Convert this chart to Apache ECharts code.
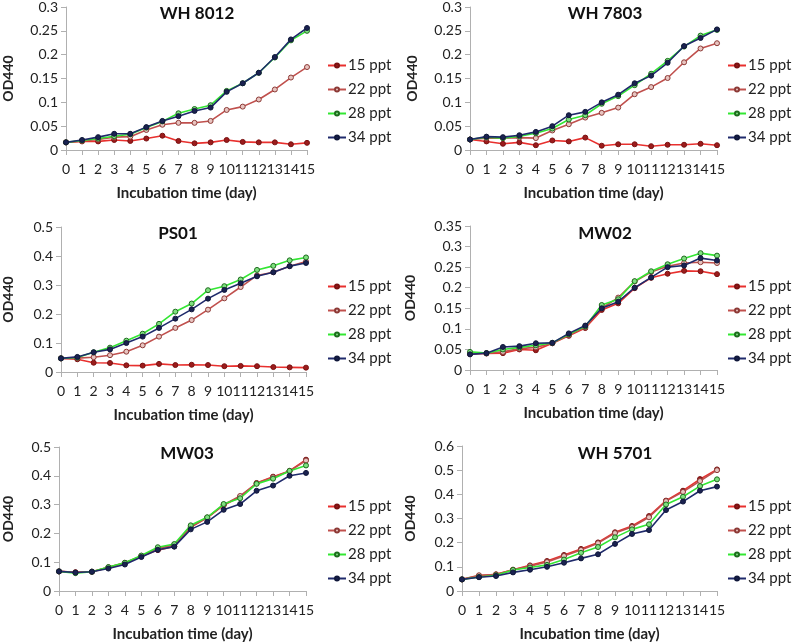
<!DOCTYPE html>
<html lang="en">
  <head>
    <meta charset="utf-8" />
    <title>OD440 growth curves</title>
    <script src="https://cdn.jsdelivr.net/npm/echarts@6/dist/echarts.min.js"></script>
    <style>
      html, body { margin: 0; padding: 0; background: #fff; }
      #chart { width: 800px; height: 643px; }
    </style>
  </head>
  <body>
    <div id="chart"></div>
    <script type="text/javascript">
      // days 0..15
      var days = ["0","1","2","3","4","5","6","7","8","9","10","11","12","13","14","15"];
      var seriesNames = ["15 ppt", "22 ppt", "28 ppt", "34 ppt"];

      // WH 8012
      var wh8012_15 = [0.016,0.018,0.018,0.021,0.019,0.024,0.030,0.019,0.014,0.016,0.021,0.017,0.016,0.016,0.012,0.015];
      var wh8012_22 = [0.016,0.019,0.022,0.027,0.028,0.042,0.053,0.057,0.057,0.061,0.084,0.091,0.106,0.127,0.152,0.174];
      var wh8012_28 = [0.016,0.020,0.024,0.029,0.033,0.047,0.060,0.077,0.086,0.094,0.124,0.140,0.162,0.194,0.230,0.250];
      var wh8012_34 = [0.016,0.021,0.027,0.034,0.034,0.048,0.061,0.071,0.082,0.089,0.122,0.140,0.162,0.195,0.232,0.256];

      // WH 7803
      var wh7803_15 = [0.022,0.018,0.013,0.016,0.010,0.020,0.018,0.026,0.009,0.012,0.012,0.008,0.011,0.011,0.013,0.010];
      var wh7803_22 = [0.022,0.025,0.025,0.026,0.025,0.041,0.054,0.068,0.078,0.089,0.117,0.132,0.151,0.184,0.213,0.224];
      var wh7803_28 = [0.022,0.027,0.025,0.029,0.035,0.045,0.064,0.073,0.097,0.113,0.136,0.160,0.187,0.217,0.240,0.252];
      var wh7803_34 = [0.022,0.028,0.027,0.031,0.038,0.050,0.073,0.080,0.100,0.116,0.140,0.156,0.183,0.218,0.235,0.253];

      // PS01
      var ps01_15 = [0.047,0.044,0.032,0.031,0.023,0.022,0.028,0.024,0.025,0.024,0.020,0.021,0.020,0.017,0.016,0.015];
      var ps01_22 = [0.047,0.048,0.051,0.058,0.070,0.092,0.122,0.152,0.179,0.215,0.254,0.293,0.333,0.344,0.365,0.381];
      var ps01_28 = [0.047,0.050,0.068,0.084,0.108,0.132,0.166,0.208,0.236,0.282,0.296,0.319,0.352,0.366,0.385,0.395];
      var ps01_34 = [0.047,0.052,0.068,0.078,0.100,0.122,0.152,0.184,0.216,0.253,0.283,0.306,0.330,0.344,0.365,0.376];

      // MW02
      var mw02_15 = [0.039,0.040,0.041,0.050,0.048,0.065,0.083,0.102,0.146,0.162,0.199,0.224,0.234,0.241,0.240,0.233];
      var mw02_22 = [0.040,0.041,0.044,0.052,0.055,0.065,0.085,0.104,0.150,0.176,0.215,0.238,0.252,0.260,0.262,0.260];
      var mw02_28 = [0.044,0.041,0.050,0.055,0.060,0.066,0.087,0.106,0.158,0.172,0.216,0.240,0.257,0.271,0.284,0.278];
      var mw02_34 = [0.038,0.041,0.056,0.058,0.065,0.066,0.089,0.108,0.150,0.166,0.200,0.225,0.250,0.254,0.272,0.266];

      // MW03
      var mw03_15 = [0.068,0.065,0.067,0.082,0.097,0.121,0.142,0.155,0.222,0.254,0.298,0.327,0.375,0.397,0.417,0.456];
      var mw03_22 = [0.068,0.065,0.067,0.082,0.098,0.122,0.148,0.160,0.222,0.255,0.300,0.330,0.374,0.395,0.416,0.453];
      var mw03_28 = [0.068,0.062,0.067,0.083,0.098,0.123,0.152,0.163,0.228,0.256,0.302,0.322,0.372,0.390,0.417,0.436];
      var mw03_34 = [0.068,0.064,0.067,0.078,0.092,0.118,0.143,0.154,0.214,0.240,0.282,0.302,0.348,0.366,0.400,0.410];

      // WH 5701
      var wh5701_15 = [0.048,0.063,0.069,0.088,0.106,0.124,0.149,0.174,0.201,0.243,0.269,0.310,0.374,0.415,0.463,0.503];
      var wh5701_22 = [0.048,0.065,0.068,0.088,0.103,0.120,0.145,0.170,0.198,0.240,0.265,0.305,0.372,0.410,0.455,0.500];
      var wh5701_28 = [0.048,0.058,0.065,0.087,0.097,0.108,0.130,0.158,0.182,0.222,0.255,0.276,0.358,0.390,0.434,0.462];
      var wh5701_34 = [0.048,0.057,0.062,0.077,0.088,0.100,0.117,0.135,0.152,0.195,0.236,0.252,0.335,0.370,0.415,0.432];

      var panels = [
        { title: "WH 8012", data: [wh8012_15, wh8012_22, wh8012_28, wh8012_34], max: 0.3, step: 0.05,
          grid: [60, 7, 247, 143], titleX: 192, titleY: 0, legendX: 327, legendY: 58, yGap: 51 },
        { title: "WH 7803", data: [wh7803_15, wh7803_22, wh7803_28, wh7803_34], max: 0.3, step: 0.05,
          grid: [470, 7, 247, 143], titleX: 600, titleY: 0, legendX: 727, legendY: 58, yGap: 51 },
        { title: "PS01", data: [ps01_15, ps01_22, ps01_28, ps01_34], max: 0.5, step: 0.1,
          grid: [52, 227, 254, 145], titleX: 173, titleY: 220, legendX: 327, legendY: 279, yGap: 46 },
        { title: "MW02", data: [mw02_15, mw02_22, mw02_28, mw02_34], max: 0.35, step: 0.05,
          grid: [470, 226, 247, 144], titleX: 600, titleY: 220, legendX: 727, legendY: 279, yGap: 53 },
        { title: "MW03", data: [mw03_15, mw03_22, mw03_28, mw03_34], max: 0.5, step: 0.1,
          grid: [52, 447, 254, 145], titleX: 182, titleY: 440, legendX: 327, legendY: 499, yGap: 44 },
        { title: "WH 5701", data: [wh5701_15, wh5701_22, wh5701_28, wh5701_34], max: 0.6, step: 0.1,
          grid: [462, 446, 255, 145], titleX: 610, titleY: 440, legendX: 727, legendY: 499, yGap: 45 }
      ];

      // line colour, marker fill, marker border
      var styles = [
        { line: "#e8302e", fill: "#9b1c1c", border: "#7a1212" },
        { line: "#c0504d", fill: "#e8c4c0", border: "#8c3a36" },
        { line: "#33e633", fill: "#7fe07f", border: "#1e6b1e" },
        { line: "#1f2a6b", fill: "#1a2250", border: "#10173a" }
      ];

      var font = "Lato, 'Open Sans', sans-serif";
      var option = {
        animation: false,
        backgroundColor: "#fff",
        textStyle: { fontFamily: font },
        title: [], legend: [], grid: [], xAxis: [], yAxis: [], series: []
      };

      panels.forEach(function (p, i) {
        option.title.push({
          text: p.title, left: p.titleX, top: p.titleY, textAlign: "center",
          textStyle: { fontSize: 17, fontWeight: "bold", color: "#111", fontFamily: font }
        });
        option.grid.push({ left: p.grid[0], top: p.grid[1], width: p.grid[2], height: p.grid[3] });
        option.legend.push({
          orient: "vertical", left: p.legendX, top: p.legendY, padding: 0,
          itemWidth: 18, itemHeight: 5, itemGap: 9,
          data: seriesNames,
          textStyle: { fontSize: 15, color: "#222", fontFamily: font, padding: [0, 0, 0, -3] }
        });
        option.xAxis.push({
          type: "category", gridIndex: i, data: days, boundaryGap: false,
          name: "Incubation time (day)", nameLocation: "middle", nameGap: 36,
          nameTextStyle: { fontSize: 15, fontWeight: "bold", color: "#222" },
          axisLine: { lineStyle: { color: "#b0b0b0" } },
          axisTick: { show: true, length: 5, lineStyle: { color: "#b0b0b0" } },
          axisLabel: { interval: 0, margin: 12, fontSize: 14, color: "#222" },
          splitLine: { show: false }
        });
        option.yAxis.push({
          type: "value", gridIndex: i, min: 0, max: p.max, interval: p.step,
          name: "OD440", nameLocation: "middle", nameGap: p.yGap,
          nameTextStyle: { fontSize: 14, fontWeight: "bold", color: "#222" },
          axisLine: { show: true, lineStyle: { color: "#b0b0b0" } },
          axisTick: { show: true, length: 5, lineStyle: { color: "#b0b0b0" } },
          axisLabel: { margin: 8, fontSize: 14, color: "#222" },
          splitLine: { show: false }
        });
        p.data.forEach(function (vals, k) {
          var s = styles[k];
          option.series.push({
            name: seriesNames[k], type: "line", xAxisIndex: i, yAxisIndex: i,
            data: vals, symbol: "circle", symbolSize: 5, showSymbol: true,
            lineStyle: { color: s.line, width: 1.6 },
            itemStyle: { color: s.fill, borderColor: s.border, borderWidth: 1 },
            z: 2 + k
          });
        });
      });

      var myChart = echarts.init(document.getElementById("chart"));
      myChart.setOption(option);
    </script>
  </body>
</html>
